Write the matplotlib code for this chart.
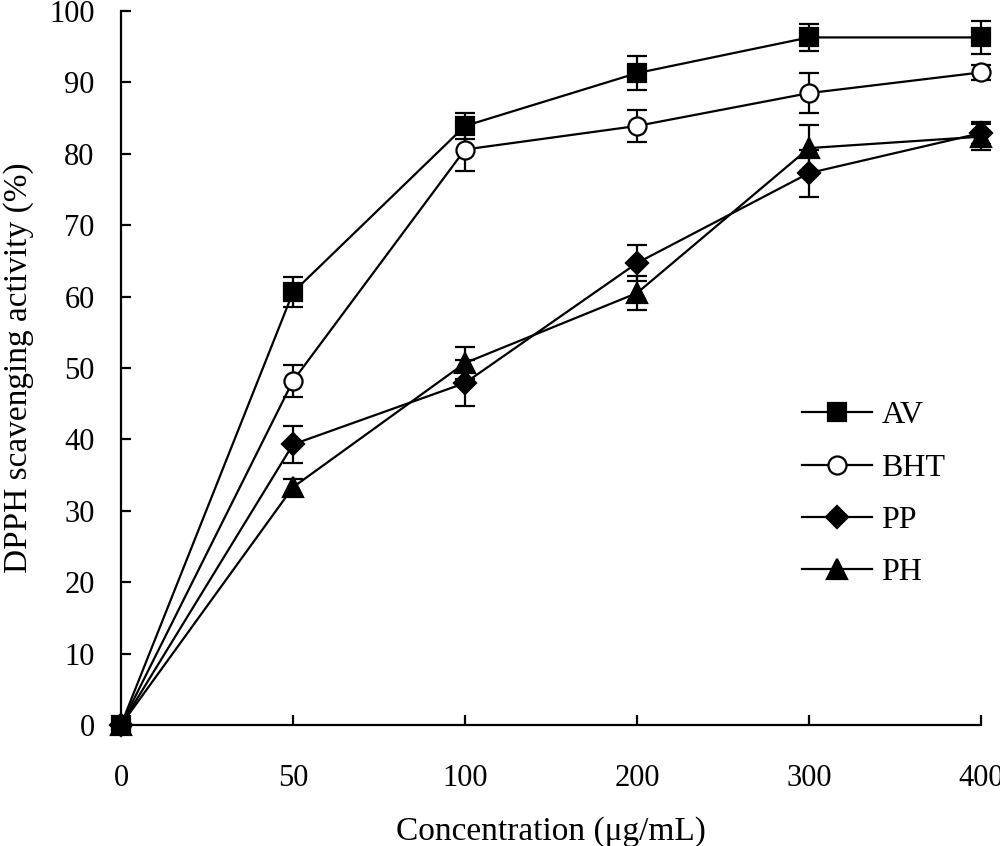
import numpy as np
import matplotlib
matplotlib.use("Agg")
import matplotlib.pyplot as plt

plt.rcParams['font.family'] = ['Liberation Serif', 'DejaVu Serif']

# data
concentrations = ["0", "50", "100", "200", "300", "400"]
av = [0, 60.6, 83.9, 91.3, 96.3, 96.3]
av_err = [0, 2.1, 1.8, 2.4, 1.9, 2.3]
bht = [0, 48.2, 80.6, 83.9, 88.5, 91.4]
bht_err = [0, 2.2, 3.0, 2.3, 2.8, 1.0]
pp = [0, 39.3, 47.9, 64.7, 77.3, 82.9]
pp_err = [0, 2.6, 3.2, 2.5, 3.3, 1.5]
ph = [0, 33.3, 50.7, 60.5, 80.8, 82.4]
ph_err = [0, 1.1, 2.3, 2.4, 3.2, 1.8]

series = [
    ("AV", av, av_err, "s", "black", 13),
    ("BHT", bht, bht_err, "o", "white", 13),
    ("PP", pp, pp_err, "D", "black", 11),
    ("PH", ph, ph_err, "^", "black", 14),
]

fig = plt.figure(figsize=(10, 8.46), dpi=100)
ax = fig.add_axes([0.121, 0.143, 0.860, 0.844])

x = np.arange(len(concentrations))
for name, vals, errs, mk, fc, ms in series:
    ax.errorbar(x, vals, yerr=errs, color="black", lw=1.6, marker=mk, ms=ms,
                mfc=fc, mec="black", mew=1.6, capsize=7, capthick=1.6,
                elinewidth=1.6, label=name, clip_on=False, zorder=3)

ax.set_xlim(0, 5)
ax.set_ylim(0, 100)
ax.set_xticks(x)
ax.set_xticklabels(concentrations)
ax.set_yticks(np.arange(0, 101, 10))
ax.tick_params(direction="in", length=7, width=1.6, labelsize=22)
ax.tick_params(axis="x", pad=28)
ax.tick_params(axis="y", pad=19)
for s in ["top", "right"]:
    ax.spines[s].set_visible(False)
for s in ["left", "bottom"]:
    ax.spines[s].set_linewidth(1.6)

ax.set_xlabel("Concentration (μg/mL)", fontsize=24)
ax.xaxis.set_label_coords(0.5, -0.128)
ax.set_ylabel("DPPH scavenging activity (%)", fontsize=24)
ax.yaxis.set_label_coords(-0.101, 0.5)

handles, labels = ax.get_legend_handles_labels()
handles = [h[0] for h in handles]
ax.legend(handles, labels, loc="upper left", bbox_to_anchor=(0.758, 0.494),
          frameon=False, fontsize=23, handlelength=2.2, labelspacing=0.72,
          handletextpad=0.3)

fig.savefig("out.png", dpi=100)
